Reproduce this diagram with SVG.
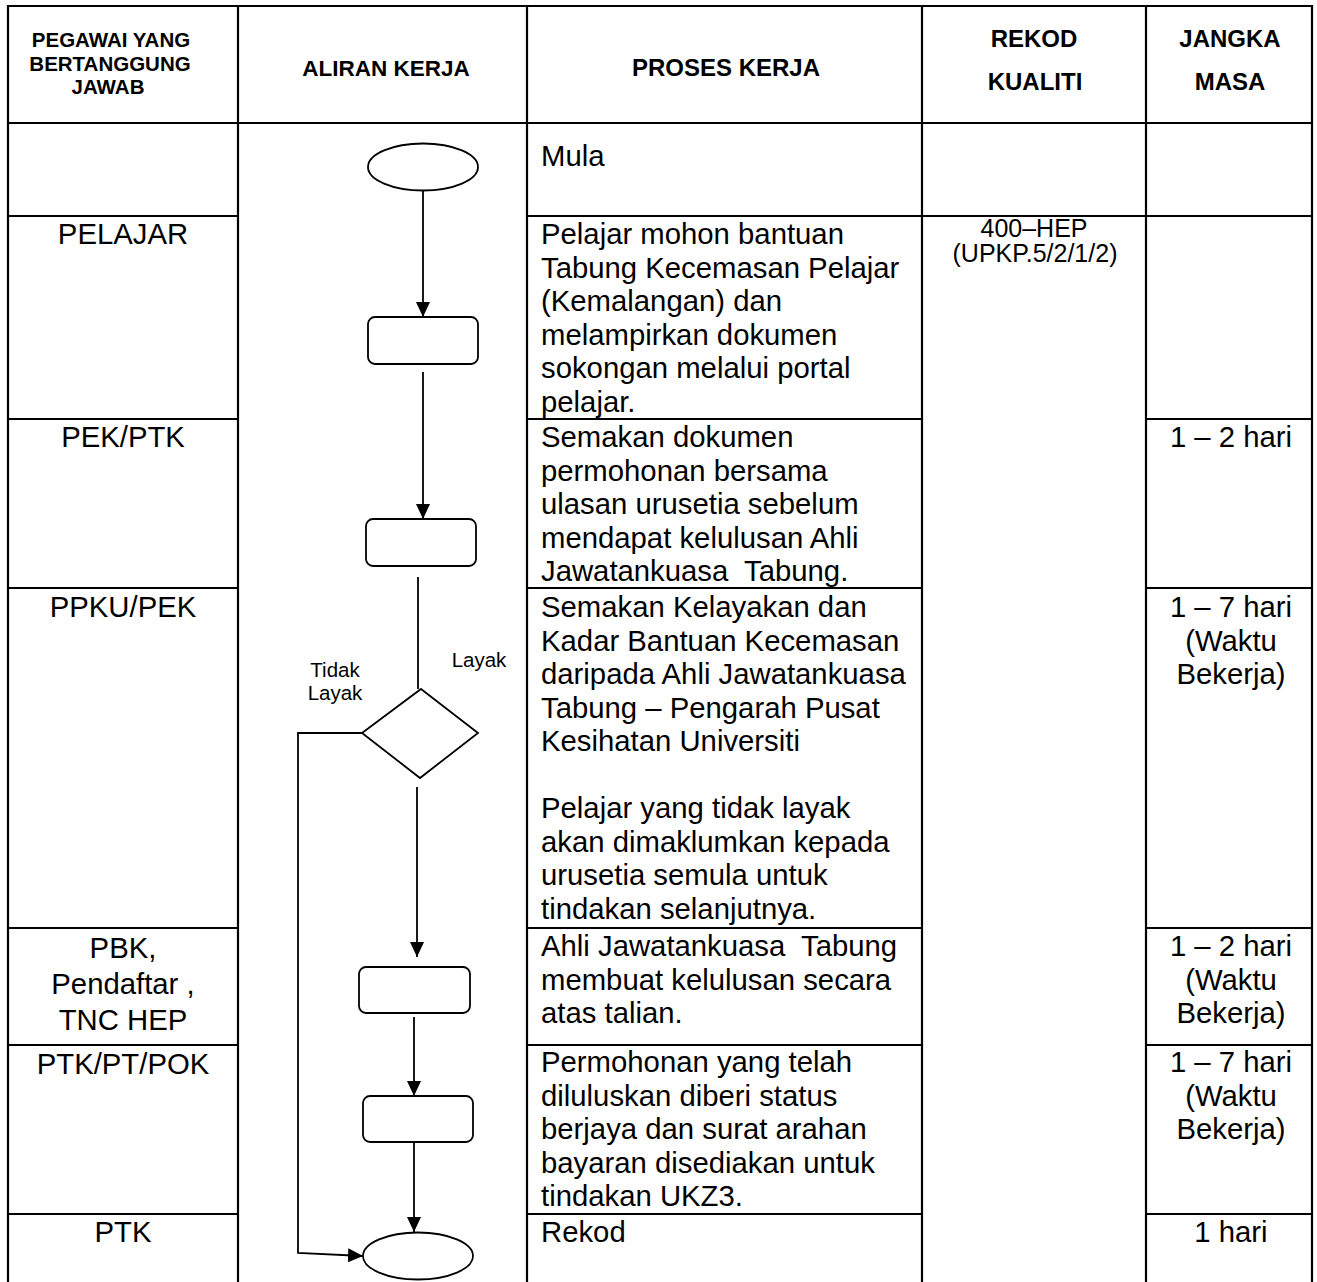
<svg xmlns="http://www.w3.org/2000/svg" width="1317" height="1282" viewBox="0 0 1317 1282">
<style>
text{font-family:"Liberation Sans",Arial,sans-serif;fill:#000;white-space:pre}
.h{font-size:24px;font-weight:bold;text-anchor:middle}
.hp{font-size:20.5px}
.ha{font-size:22.5px}
.b{font-size:29.3px}
.c{text-anchor:middle}
.s{font-size:25px;text-anchor:middle}
.l{font-size:20.5px;text-anchor:middle}
.grid line{stroke:#000;stroke-width:2.2}
.shape{fill:#fff;stroke:#000;stroke-width:1.8}
.conn{fill:none;stroke:#000;stroke-width:1.8}
</style>
<defs>
<marker id="arr" markerWidth="15" markerHeight="14" refX="15" refY="7" orient="auto" markerUnits="userSpaceOnUse" viewBox="0 0 15 14">
<path d="M0,0 L15,7 L0,14 Z" fill="#000"/>
</marker>
</defs>
<rect width="1317" height="1282" fill="#fff"/>
<g class="grid">
<line x1="7" y1="6" x2="1313" y2="6"/>
<line x1="7" y1="123" x2="1313" y2="123"/>
<line x1="8" y1="5" x2="8" y2="1282"/>
<line x1="238" y1="5" x2="238" y2="1282"/>
<line x1="527" y1="5" x2="527" y2="1282"/>
<line x1="922" y1="5" x2="922" y2="1282"/>
<line x1="1146" y1="5" x2="1146" y2="1282"/>
<line x1="1312" y1="5" x2="1312" y2="1282"/>
<line x1="8" y1="216" x2="238" y2="216"/>
<line x1="527" y1="216" x2="1312" y2="216"/>
<line x1="8" y1="419" x2="238" y2="419"/>
<line x1="527" y1="419" x2="922" y2="419"/>
<line x1="1146" y1="419" x2="1312" y2="419"/>
<line x1="8" y1="588" x2="238" y2="588"/>
<line x1="527" y1="588" x2="922" y2="588"/>
<line x1="1146" y1="588" x2="1312" y2="588"/>
<line x1="8" y1="928" x2="238" y2="928"/>
<line x1="527" y1="928" x2="922" y2="928"/>
<line x1="1146" y1="928" x2="1312" y2="928"/>
<line x1="8" y1="1045" x2="238" y2="1045"/>
<line x1="527" y1="1045" x2="922" y2="1045"/>
<line x1="1146" y1="1045" x2="1312" y2="1045"/>
<line x1="8" y1="1214" x2="238" y2="1214"/>
<line x1="527" y1="1214" x2="922" y2="1214"/>
<line x1="1146" y1="1214" x2="1312" y2="1214"/>
</g>
<g id="header">
<text class="h hp" x="111" y="47">PEGAWAI YANG</text>
<text class="h hp" x="110" y="70.5">BERTANGGUNG</text>
<text class="h hp" x="108" y="94">JAWAB</text>
<text class="h ha" x="386" y="76">ALIRAN KERJA</text>
<text class="h" x="726" y="76">PROSES KERJA</text>
<text class="h" x="1034" y="47">REKOD</text>
<text class="h" x="1035" y="90">KUALITI</text>
<text class="h" x="1230" y="47">JANGKA</text>
<text class="h" x="1230" y="90">MASA</text>
</g>
<g id="pegawai">
<text class="b c" x="123" y="244">PELAJAR</text>
<text class="b c" x="123" y="447">PEK/PTK</text>
<text class="b c" x="123" y="617">PPKU/PEK</text>
<text class="b c" x="123" y="958">PBK,</text>
<text class="b c" x="123" y="994">Pendaftar ,</text>
<text class="b c" x="123" y="1030">TNC HEP</text>
<text class="b c" x="123" y="1074">PTK/PT/POK</text>
<text class="b c" x="123" y="1242">PTK</text>
</g>
<g id="proses">
<text class="b" x="541" y="166">Mula</text>
<text class="b" x="541" y="244">Pelajar mohon bantuan</text>
<text class="b" x="541" y="277.5">Tabung Kecemasan Pelajar</text>
<text class="b" x="541" y="311">(Kemalangan) dan</text>
<text class="b" x="541" y="344.5">melampirkan dokumen</text>
<text class="b" x="541" y="378">sokongan melalui portal</text>
<text class="b" x="541" y="411.5">pelajar.</text>
<text class="b" x="541" y="447">Semakan dokumen</text>
<text class="b" x="541" y="480.5">permohonan bersama</text>
<text class="b" x="541" y="514">ulasan urusetia sebelum</text>
<text class="b" x="541" y="547.5">mendapat kelulusan Ahli</text>
<text class="b" x="541" y="581">Jawatankuasa  Tabung.</text>
<text class="b" x="541" y="617">Semakan Kelayakan dan</text>
<text class="b" x="541" y="650.5">Kadar Bantuan Kecemasan</text>
<text class="b" x="541" y="684">daripada Ahli Jawatankuasa</text>
<text class="b" x="541" y="717.5">Tabung – Pengarah Pusat</text>
<text class="b" x="541" y="751">Kesihatan Universiti</text>
<text class="b" x="541" y="818">Pelajar yang tidak layak</text>
<text class="b" x="541" y="851.5">akan dimaklumkan kepada</text>
<text class="b" x="541" y="885">urusetia semula untuk</text>
<text class="b" x="541" y="918.5">tindakan selanjutnya.</text>
<text class="b" x="541" y="956">Ahli Jawatankuasa  Tabung</text>
<text class="b" x="541" y="989.5">membuat kelulusan secara</text>
<text class="b" x="541" y="1023">atas talian.</text>
<text class="b" x="541" y="1072">Permohonan yang telah</text>
<text class="b" x="541" y="1105.5">diluluskan diberi status</text>
<text class="b" x="541" y="1139">berjaya dan surat arahan</text>
<text class="b" x="541" y="1172.5">bayaran disediakan untuk</text>
<text class="b" x="541" y="1206">tindakan UKZ3.</text>
<text class="b" x="541" y="1242">Rekod</text>
</g>
<g id="rekod">
<text class="s" x="1034" y="237">400–HEP</text>
<text class="s" x="1035" y="262">(UPKP.5/2/1/2)</text>
</g>
<g id="jangka">
<text class="b c" x="1231" y="447">1 – 2 hari</text>
<text class="b c" x="1231" y="617">1 – 7 hari</text>
<text class="b c" x="1231" y="650.5">(Waktu</text>
<text class="b c" x="1231" y="684">Bekerja)</text>
<text class="b c" x="1231" y="956">1 – 2 hari</text>
<text class="b c" x="1231" y="989.5">(Waktu</text>
<text class="b c" x="1231" y="1023">Bekerja)</text>
<text class="b c" x="1231" y="1072">1 – 7 hari</text>
<text class="b c" x="1231" y="1105.5">(Waktu</text>
<text class="b c" x="1231" y="1139">Bekerja)</text>
<text class="b c" x="1231" y="1242">1 hari</text>
</g>
<g id="connectors">
<line class="conn" x1="423" y1="190" x2="423" y2="317" marker-end="url(#arr)"/>
<line class="conn" x1="423" y1="372" x2="423" y2="519" marker-end="url(#arr)"/>
<line class="conn" x1="418" y1="577" x2="418" y2="689"/>
<line class="conn" x1="417" y1="787" x2="417" y2="957" marker-end="url(#arr)"/>
<line class="conn" x1="414" y1="1017" x2="414" y2="1096" marker-end="url(#arr)"/>
<line class="conn" x1="414" y1="1142" x2="414" y2="1232" marker-end="url(#arr)"/>
<polyline class="conn" points="362,733 298,733 298,1253 363,1256" marker-end="url(#arr)"/>
<text class="l" x="335" y="677">Tidak</text>
<text class="l" x="335" y="700">Layak</text>
<text class="l" x="479" y="667">Layak</text>
</g>
<g id="start"><ellipse class="shape" cx="423" cy="167" rx="55" ry="23.5"/></g>
<g id="step1"><rect class="shape" x="368" y="317" width="110" height="47" rx="7"/></g>
<g id="step2"><rect class="shape" x="366" y="519" width="110" height="47" rx="7"/></g>
<g id="decision"><polygon class="shape" points="421,689 478,733 420,778 362,733"/></g>
<g id="step3"><rect class="shape" x="359" y="967" width="111" height="46" rx="7"/></g>
<g id="step4"><rect class="shape" x="363" y="1096" width="110" height="46" rx="7"/></g>
<g id="end"><ellipse class="shape" cx="418" cy="1256" rx="55" ry="23.5"/></g>
</svg>
